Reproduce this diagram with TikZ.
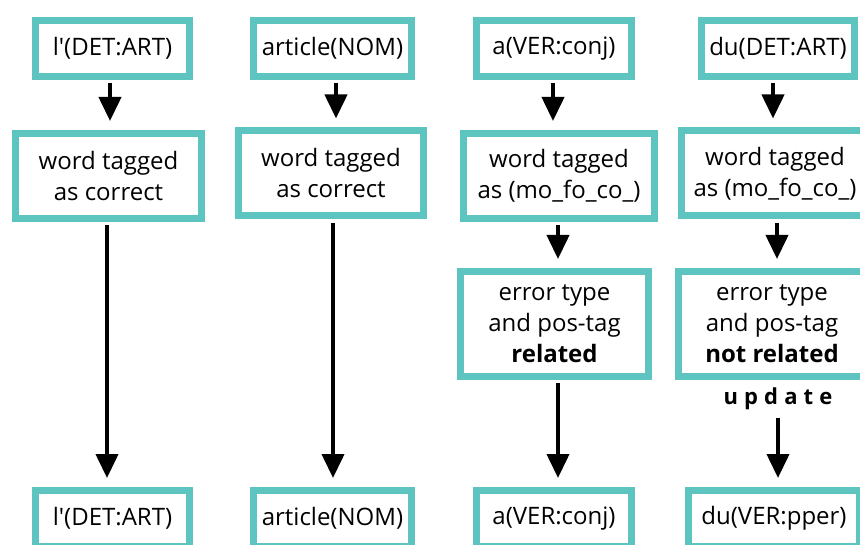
\documentclass[tikz,border=0pt]{standalone}
\usepackage{fontspec}
\setmainfont{Open Sans}
\usetikzlibrary{arrows.meta}
\definecolor{tealframe}{RGB}{94,196,191}
\begin{document}
\begin{tikzpicture}[x=1pt,y=-1pt,
  box/.style={draw=tealframe, line width=7pt, fill=white, inner sep=0pt,
              align=center, font=\fontsize{24}{31}\selectfont},
  wordbox/.style={box, minimum height=56pt},
  tagbox/.style={box, minimum height=85pt},
  relbox/.style={box, minimum height=105pt},
  flow/.style={-{Triangle[length=24pt,width=22pt]}, line width=4pt, black,
               shorten <=3.5pt, shorten >=9pt},
  note/.style={inner sep=0pt, font=\fontsize{22}{26}\selectfont\bfseries\addfontfeatures{LetterSpace=28}}]
\useasboundingbox (0,0) rectangle (860,545);
\clip (0,0) rectangle (860,545);

% column 1
\node[wordbox, minimum width=154pt] (a1) at (112.5,48.5) {l\textquotesingle(DET:ART)};
\node[tagbox, minimum width=186pt] (b1) at (108.5,176) {word tagged\\as correct};
\node[wordbox, minimum width=154pt] (c1) at (112.5,518.5) {l\textquotesingle(DET:ART)};

% column 2
\node[wordbox, minimum width=158pt] (a2) at (332.5,48.5) {article(NOM)};
\node[tagbox, minimum width=185pt] (b2) at (331,173.5) {word tagged\\as correct};
\node[wordbox, minimum width=158pt] (c2) at (332.5,518.5) {article(NOM)};

% column 3
\node[wordbox, minimum width=155pt] (a3) at (554,48.5) {a(VER:conj)};
\node[tagbox, minimum width=191pt] (b3) at (559,176) {word tagged\\as (mo\_fo\_co\_)};
\node[relbox, minimum width=188pt] (r3) at (554.5,324) {error type\\and pos-tag\\\textbf{related}};
\node[wordbox, minimum width=155pt] (c3) at (554,518.5) {a(VER:conj)};

% column 4
\node[wordbox, minimum width=153pt] (a4) at (778,48.5) {du(DET:ART)};
\node[tagbox, minimum width=187pt] (b4) at (775,173.5) {word tagged\\as (mo\_fo\_co\_)};
\node[relbox, minimum width=188pt] (r4) at (772,324) {error type\\and pos-tag\\\textbf{not related}};
\node[note] (u4) at (778,399) {update};
\node[wordbox, minimum width=171pt] (c4) at (774,518.5) {du(VER:pper)};

% connectors
\draw[flow] ([xshift=-2.5pt]a1.south) -- ([xshift=1.5pt]b1.north);
\draw[flow] ([xshift=-1.5pt]b1.south) -- ([xshift=-5.5pt]c1.north);
\draw[flow] ([xshift=3.5pt]a2.south) -- ([xshift=5pt]b2.north);
\draw[flow] ([xshift=2pt]b2.south) -- ([xshift=0.5pt]c2.north);
\draw[flow] ([xshift=-1pt]a3.south) -- ([xshift=-6pt]b3.north);
\draw[flow] ([xshift=-1pt]b3.south) -- ([xshift=3.5pt]r3.north);
\draw[flow] ([xshift=3.5pt]r3.south) -- ([xshift=4pt]c3.north);
\draw[flow] ([xshift=-5pt]a4.south) -- ([xshift=-2pt]b4.north);
\draw[flow] ([xshift=2pt]b4.south) -- ([xshift=5pt]r4.north);
\draw[flow, shorten <=8pt] (u4.south) -- ([xshift=4pt]c4.north);
\end{tikzpicture}
\end{document}
